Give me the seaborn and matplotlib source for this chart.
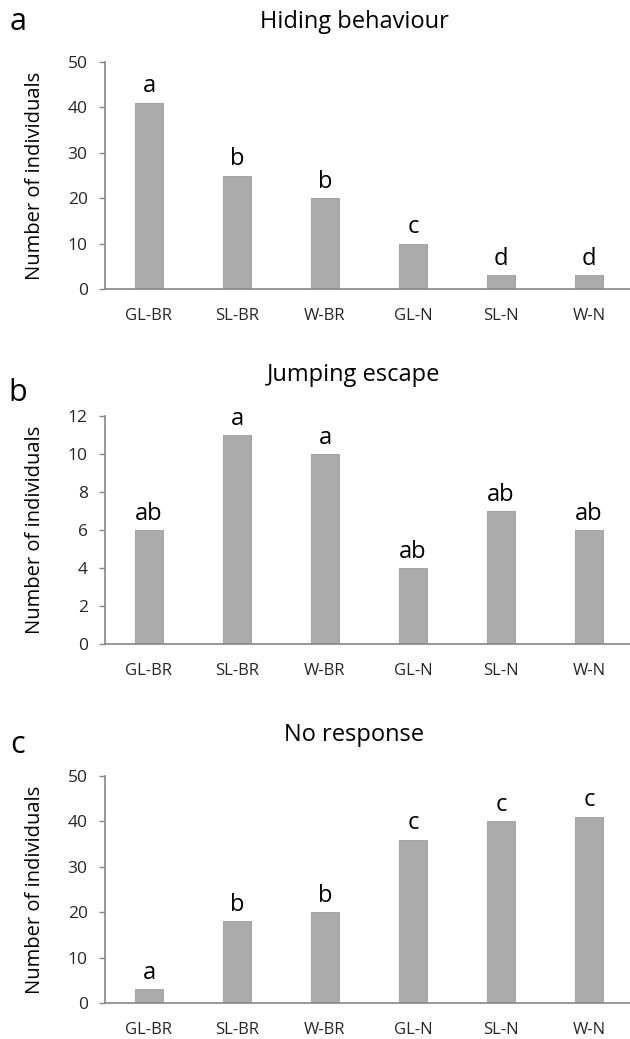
import matplotlib
matplotlib.use("Agg")
import matplotlib.pyplot as plt
import seaborn as sns
import pandas as pd

# ---- data ----
categories = ["GL-BR", "SL-BR", "W-BR", "GL-N", "SL-N", "W-N"]
hiding = [41, 25, 20, 10, 3, 3]
hiding_letters = ["a", "b", "b", "c", "d", "d"]
jumping = [6, 11, 10, 4, 7, 6]
jumping_letters = ["ab", "a", "a", "ab", "ab", "ab"]
noresp = [3, 18, 20, 36, 40, 41]
noresp_letters = ["a", "b", "b", "c", "c", "c"]
titles = ["Hiding behaviour", "Jumping escape", "No response"]
panel_tags = ["a", "b", "c"]
ylims = [50, 12, 50]
ysteps = [10, 2, 10]
ylabel = "Number of individuals"

sns.set_theme(style="white")
plt.rcParams["font.family"] = ["Open Sans", "DejaVu Sans"]

W, H = 630, 1039
fig = plt.figure(figsize=(W / 100, H / 100), dpi=100)
fig.patch.set_facecolor("white")

# axes pixel geometry (top, bottom)
panels_px = [(62, 289), (416, 644), (776, 1003)]
title_y = [22, 375, 735]
tag_y = [22, 393, 745]
left_px, right_px = 105, 633

series = [hiding, jumping, noresp]
letters = [hiding_letters, jumping_letters, noresp_letters]

bar_color = "#ababab"
axis_color = "#868686"
text_color = "#262626"

for i in range(3):
    top, bot = panels_px[i]
    ax = fig.add_axes([left_px / W, 1 - bot / H, (right_px - left_px) / W, (bot - top) / H])
    df = pd.DataFrame({"cat": categories, "val": series[i]})
    sns.barplot(data=df, x="cat", y="val", color=bar_color, width=0.31,
                saturation=1, edgecolor="#9a9a9a", linewidth=0.6, ax=ax)
    ax.set_xlim(-0.5, 5.5)
    ax.set_ylim(0, ylims[i])
    ax.set_yticks(range(0, ylims[i] + 1, ysteps[i]))
    ax.set_xlabel("")
    ax.set_ylabel(ylabel, fontsize=14.5, color="black")
    ax.yaxis.set_label_coords((45 - left_px) / (right_px - left_px), 0.5)
    for s in ["top", "right"]:
        ax.spines[s].set_visible(False)
    for s in ["left", "bottom"]:
        ax.spines[s].set_color(axis_color)
        ax.spines[s].set_linewidth(1.2)
    ax.tick_params(axis="y", which="major", direction="out", length=4.5, width=1.0,
                   color=axis_color, labelsize=12.5, labelcolor=text_color, pad=8, left=True)
    ax.tick_params(axis="x", length=0, labelsize=12, labelcolor=text_color, pad=14)
    ax.set_facecolor("white")
    for j, (v, lab) in enumerate(zip(series[i], letters[i])):
        ax.annotate(lab, xy=(j, v), xytext=(0, 7.5), textcoords="offset points",
                    ha="center", va="baseline", fontsize=17, color="black")
    fig.text(354 / W, 1 - title_y[i] / H, titles[i], ha="center", va="center",
             fontsize=17, color="black")
    fig.text(18 / W, 1 - tag_y[i] / H, panel_tags[i], ha="center", va="center",
             fontsize=22, color="black")

fig.savefig("out.png", dpi=100, facecolor="white")
